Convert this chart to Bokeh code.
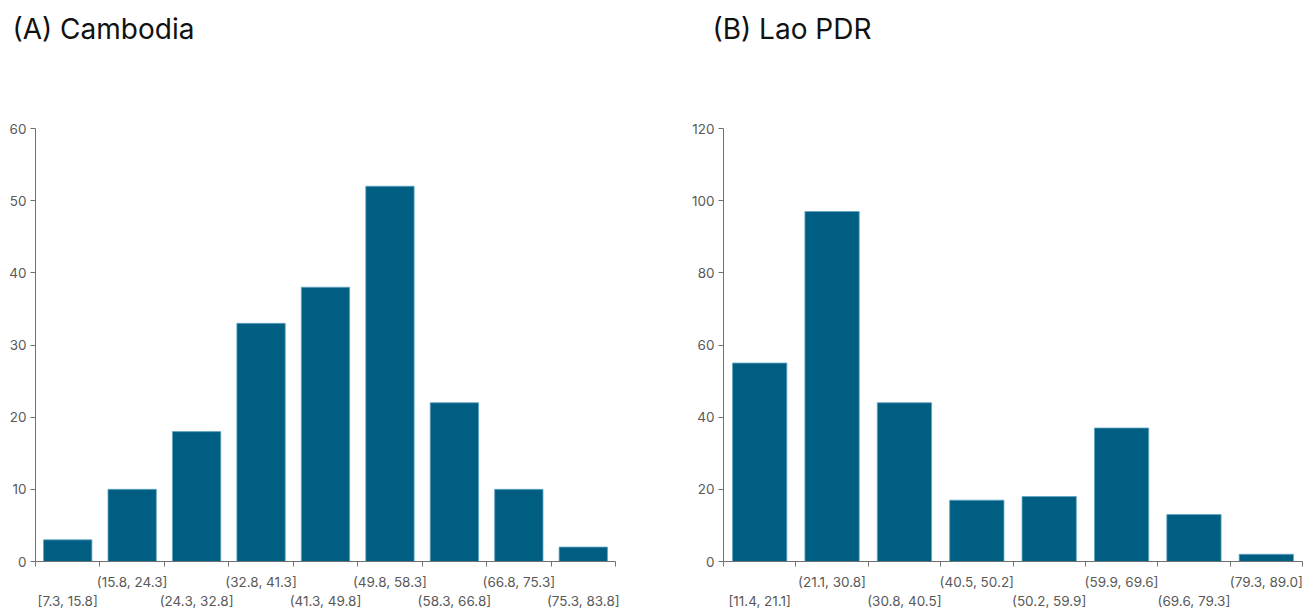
from bokeh.plotting import figure
from bokeh.layouts import row
from bokeh.models import Range1d, LinearAxis, FixedTicker
from bokeh.embed import file_html
from bokeh.resources import INLINE

cam_labels = ["[7.3, 15.8]", "(15.8, 24.3]", "(24.3, 32.8]", "(32.8, 41.3]", "(41.3, 49.8]",
              "(49.8, 58.3]", "(58.3, 66.8]", "(66.8, 75.3]", "(75.3, 83.8]"]
cam_counts = [3, 10, 18, 33, 38, 52, 22, 10, 2]

lao_labels = ["[11.4, 21.1]", "(21.1, 30.8]", "(30.8, 40.5]", "(40.5, 50.2]", "(50.2, 59.9]",
              "(59.9, 69.6]", "(69.6, 79.3]", "(79.3, 89.0]"]
lao_counts = [55, 97, 44, 17, 18, 37, 13, 2]

BAR = "#005E82"
EDGE = "#5FA6C4"
GREY = "#595959"
AXIS = "#707070"
TICK_FONT = "Inter"
TITLE_FONT = "Inter"
TICK_SIZE = "13.5px"


def make(title, labels, counts, ymax, ystep, width, height, bl, br, bt, bb):
    n = len(labels)
    p = figure(width=width, height=height, output_backend="svg", toolbar_location=None,
               x_range=Range1d(0, n), y_range=Range1d(0, ymax),
               min_border_left=bl, min_border_right=br, min_border_top=bt, min_border_bottom=bb)
    p.outline_line_color = None
    p.grid.visible = False
    centers = [i + 0.5 for i in range(n)]
    p.vbar(x=centers, top=counts, width=0.75, fill_color=BAR, line_color=EDGE, line_width=0.8)

    p.title.text = title
    p.title.text_font = TITLE_FONT
    p.title.text_font_size = "28px"
    p.title.text_font_style = "normal"
    p.title.text_color = "#111111"
    p.title.align = "left"
    p.title.vertical_align = "top"
    p.title.standoff = 0

    # y axis
    ya = p.left[0]
    ya.ticker = FixedTicker(ticks=list(range(0, ymax + 1, ystep)))
    ya.axis_line_color = AXIS
    ya.major_tick_line_color = AXIS
    ya.major_tick_out = 5
    ya.major_tick_in = 0
    ya.minor_tick_line_color = None
    ya.major_label_text_font = TICK_FONT
    ya.major_label_text_font_size = TICK_SIZE
    ya.major_label_text_color = GREY
    ya.major_label_standoff = 4

    # main x axis: boundary ticks as minor ticks, upper row labels at odd centres
    up = list(range(1, n, 2))
    xa = p.below[0]
    xa.ticker = FixedTicker(ticks=[centers[i] for i in up], minor_ticks=list(range(0, n + 1)))
    xa.major_label_overrides = {centers[i]: labels[i] for i in up}
    xa.axis_line_color = AXIS
    xa.major_tick_line_color = None
    xa.major_tick_out = 0
    xa.major_tick_in = 0
    xa.minor_tick_line_color = AXIS
    xa.minor_tick_out = 5
    xa.minor_tick_in = 0
    xa.major_label_standoff = 7
    xa.major_label_text_font = TICK_FONT
    xa.major_label_text_font_size = TICK_SIZE
    xa.major_label_text_color = GREY

    low = list(range(0, n, 2))
    ax = LinearAxis(ticker=FixedTicker(ticks=[centers[i] for i in low]),
                    major_label_overrides={centers[i]: labels[i] for i in low})
    ax.axis_line_color = None
    ax.major_tick_line_color = None
    ax.minor_tick_line_color = None
    ax.major_tick_out = 0
    ax.major_tick_in = 0
    ax.major_label_standoff = 0
    ax.major_label_text_font = TICK_FONT
    ax.major_label_text_font_size = TICK_SIZE
    ax.major_label_text_color = GREY
    p.add_layout(ax, "below")

    # invisible spacer axis between frame and title (nothing drawn, only space)
    sp = LinearAxis(ticker=FixedTicker(ticks=[centers[0]], minor_ticks=[]))
    sp.axis_line_color = None
    sp.major_tick_line_color = None
    sp.minor_tick_line_color = None
    sp.major_tick_out = 81
    sp.major_tick_in = 0
    sp.minor_tick_out = 0
    sp.major_label_standoff = 0
    sp.major_label_text_color = None
    sp.major_label_text_font_size = "0px"
    p.add_layout(sp, "above")
    return p


p1 = make("(A) Cambodia", cam_labels, cam_counts, 60, 10, 660, 611, 35, 45, 128, 48)
p1.title.offset = -23
p2 = make("(B) Lao PDR", lao_labels, lao_counts, 120, 20, 647, 611, 63, 5, 128, 48)
p2.title.offset = -11

layout = row(p1, p2)
open("out.html", "w").write(file_html(layout, INLINE))
